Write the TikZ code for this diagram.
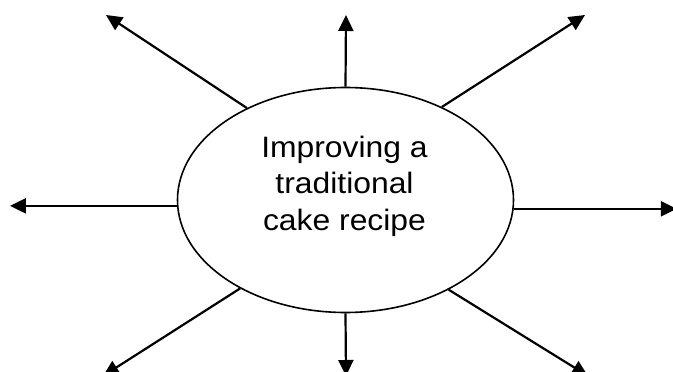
\documentclass[tikz,border=0pt]{standalone}
\usepackage{fontspec}
\setmainfont{Liberation Sans}
\newfontfamily\titlefont[FakeStretch=1.08]{Liberation Sans}
\usetikzlibrary{shapes.geometric,arrows.meta}

\begin{document}
\begin{tikzpicture}[x=1pt,y=-1pt,>={Triangle[length=16pt,width=15pt]},
  spoke/.style={->,line width=2.2pt},
  idea/.style={draw,ellipse,line width=1.6pt,minimum width=336pt,minimum height=225pt,inner sep=0pt},]
\useasboundingbox (0,0) rectangle (673,372);
\node (cake) at (345.5,200)[idea] {};
\node (title) at (344.5,186)[align=center,font=\titlefont\fontsize{29.5}{36.5}\selectfont] {Improving a\\traditional\\cake recipe};
% free ends of the spokes
\coordinate (nw) at (106,15);
\coordinate (n) at (346,15);
\coordinate (ne) at (585,15);
\path (cake.182.4) ++(-167,0) coordinate (w);
\path (cake.357.6) ++(163,0) coordinate (e);
\coordinate (sw) at (103,376);
\coordinate (s) at (346,376);
\coordinate (se) at (588,376);
\draw[spoke] (cake.137.5)--(nw);
\draw[spoke] (cake.north)--(n);
\draw[spoke] (cake.44.3)--(ne);
\draw[spoke] (cake.182.4)--(w);
\draw[spoke] (cake.357.6)--(e);
\draw[spoke] (cake.220.5)--(sw);
\draw[spoke] (cake.south)--(s);
\draw[spoke] (cake.319.5)--(se);
\end{tikzpicture}
\end{document}
